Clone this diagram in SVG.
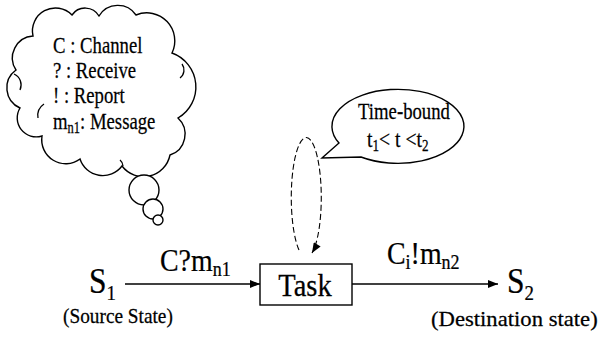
<svg xmlns="http://www.w3.org/2000/svg" width="612" height="339" viewBox="0 0 612 339">
  <defs>
    <marker id="arrow" viewBox="0 0 10 8" refX="10" refY="4" markerWidth="11" markerHeight="8" markerUnits="userSpaceOnUse" orient="auto">
      <path d="M0,0 L10,4 L0,8 Z" fill="#000"/>
    </marker>
  </defs>
  <style>
    .txt { font-family: "Liberation Serif", "Times New Roman", serif; fill: #000; stroke: #000; stroke-width: 0.25; }
    .ln { stroke: #000; stroke-width: 1.3; fill: none; }
    .shape { stroke: #000; stroke-width: 1.4; fill: #fff; }
    .dash { stroke: #000; stroke-width: 1.1; fill: none; stroke-dasharray: 6 3; }
  </style>
  <rect width="612" height="339" fill="#fff"/>

  <!-- legend cloud with thought bubbles -->
  <g id="legend">
    <path class="shape" d="M33,36 A23,23 0 0 1 72,15 A16,16 0 0 1 99,16 A22,22 0 0 1 136,15 A28,28 0 0 1 172,53 A36,36 0 0 1 178,118 A22,22 0 0 1 170,155 A27,27 0 0 1 122,166 A24,24 0 0 1 80,159 A24,24 0 0 1 42,136 A19,19 0 0 1 20,108 A22,22 0 0 1 16,70 A22,22 0 0 1 33,36 Z"/>
    <path class="ln" d="M14,74 A12,12 0 0 1 20,90 M44,104 A14,14 0 0 0 38,118 M182,64 A10,10 0 0 1 180,78 M123,166 A8,8 0 0 0 120,160"/>
    <circle class="shape" cx="144" cy="190" r="15"/>
    <circle class="shape" cx="153" cy="209" r="10"/>
    <circle class="shape" cx="158" cy="220" r="5"/>
    <g class="txt" font-size="24" transform="translate(53 0) scale(0.78 1)">
      <text x="0" y="53">C : Channel</text>
      <text x="0" y="78">? : Receive</text>
      <text x="0" y="103">! : Report</text>
      <text x="0" y="129">m<tspan font-size="16" dy="4">n1</tspan><tspan dy="-4">: Message</tspan></text>
    </g>
  </g>

  <!-- time-bound speech balloon -->
  <g id="timebound">
    <path class="shape" d="M339,143 A66,37 0 1 1 361,157 L322,158 Z"/>
    <g class="txt" font-size="24">
      <text transform="translate(404 119) scale(0.78 1)" text-anchor="middle">Time-bound</text>
      <text transform="translate(367 147) scale(0.82 1)">t<tspan font-size="16" dy="4">1</tspan><tspan dy="-4">&lt; t &lt;t</tspan><tspan font-size="16" dy="4">2</tspan></text>
    </g>
  </g>

  <!-- source state -->
  <g id="s1">
    <text class="txt" font-size="35" transform="translate(89 293) scale(0.9 1)">S<tspan font-size="21" dy="7">1</tspan></text>
    <text class="txt" font-size="21" transform="translate(63 323) scale(0.92 1)">(Source State)</text>
  </g>

  <!-- task -->
  <g id="task">
    <rect class="shape" x="260" y="264" width="92" height="41"/>
    <text class="txt" font-size="31" text-anchor="middle" transform="translate(305 296) scale(0.92 1)">Task</text>
  </g>

  <!-- destination state -->
  <g id="s2">
    <text class="txt" font-size="35" transform="translate(507 293) scale(0.9 1)">S<tspan font-size="21" dy="7">2</tspan></text>
    <text class="txt" font-size="22" transform="translate(431 326) scale(1.03 1)">(Destination state)</text>
  </g>

  <!-- transitions -->
  <g id="connectors">
    <line class="ln" x1="125" y1="284" x2="260" y2="284" marker-end="url(#arrow)"/>
    <line class="ln" x1="352" y1="284" x2="498" y2="284" marker-end="url(#arrow)"/>
    <path class="dash" d="M299,250 A15,60 0 1 1 312,253" marker-end="url(#arrow)"/>
    <text class="txt" font-size="31" transform="translate(160 271) scale(0.9 1)">C?m<tspan font-size="20" dy="5">n1</tspan></text>
    <text class="txt" font-size="31" transform="translate(387 264) scale(0.9 1)">C<tspan font-size="20" dy="5">i</tspan><tspan dy="-5">!m</tspan><tspan font-size="20" dy="5">n2</tspan></text>
  </g>
</svg>
